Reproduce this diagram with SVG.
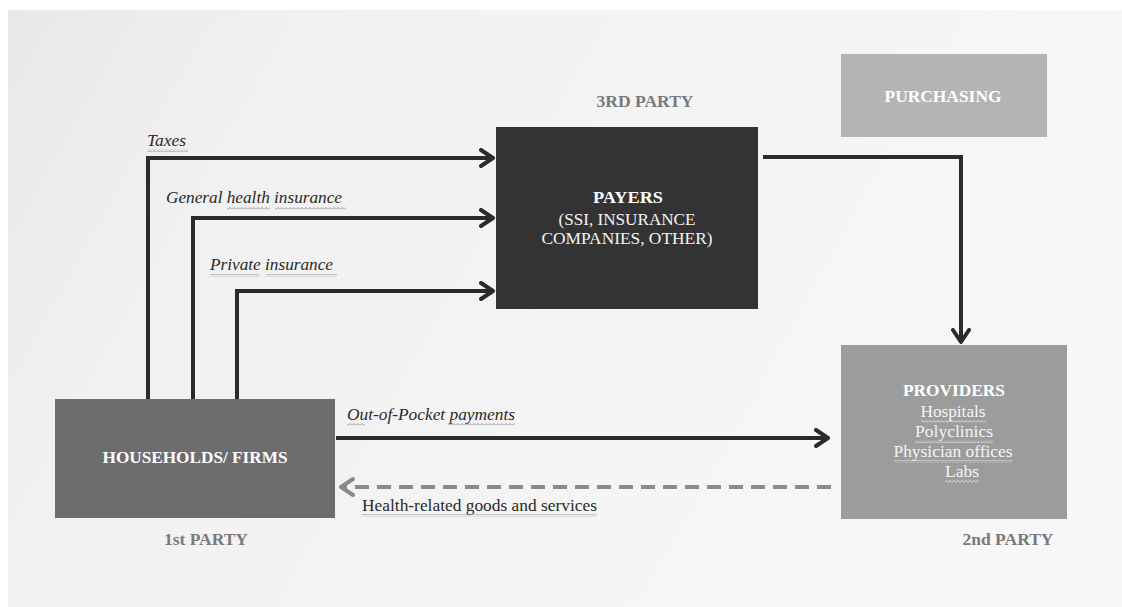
<svg xmlns="http://www.w3.org/2000/svg" width="1122" height="607" viewBox="0 0 1122 607">
  <defs>
    <linearGradient id="slideBg" x1="0" y1="0" x2="1" y2="0.3">
      <stop offset="0" stop-color="#e8e8e8"/>
      <stop offset="0.25" stop-color="#f1f1f1"/>
      <stop offset="1" stop-color="#f7f7f7"/>
    </linearGradient>
    <pattern id="squiggle" width="4" height="3" patternUnits="userSpaceOnUse">
      <path d="M0,2.5 L2,0.5 L4,2.5" fill="none" stroke="#8c8c8c" stroke-width="0.9"/>
    </pattern>
    <pattern id="squiggleLight" width="4" height="3" patternUnits="userSpaceOnUse">
      <path d="M0,2.5 L2,0.5 L4,2.5" fill="none" stroke="#ececec" stroke-width="0.9"/>
    </pattern>
    <marker id="arrowDark" viewBox="0 0 16 20" refX="14" refY="10" markerWidth="16" markerHeight="20" markerUnits="userSpaceOnUse" orient="auto">
      <path d="M2,2 L14,10 L2,18" fill="none" stroke="#2b2b2b" stroke-width="4" stroke-linecap="round" stroke-linejoin="round"/>
    </marker>
    <marker id="arrowGray" viewBox="0 0 16 20" refX="14" refY="10" markerWidth="16" markerHeight="20" markerUnits="userSpaceOnUse" orient="auto">
      <path d="M2,2 L14,10 L2,18" fill="none" stroke="#8a8a8a" stroke-width="4" stroke-linecap="round" stroke-linejoin="round"/>
    </marker>
  </defs>
  <style>
    .box-title { font-family: "Liberation Serif", serif; font-weight: bold; font-size: 16px; fill: #ffffff; text-anchor: middle; }
    .box-text { font-family: "Liberation Serif", serif; font-size: 16px; fill: #f4f4f4; text-anchor: middle; }
    .party { font-family: "Liberation Serif", serif; font-weight: bold; font-size: 16px; fill: #7a7a7a; text-anchor: middle; }
    .flow-label { font-family: "Liberation Serif", serif; font-style: italic; font-size: 16px; fill: #2a2a2a; }
    .flow-label-plain { font-family: "Liberation Serif", serif; font-size: 16px; fill: #2a2a2a; }
    .conn { fill: none; stroke: #2b2b2b; stroke-width: 4; marker-end: url(#arrowDark); }
    .conn-return { fill: none; stroke: #8a8a8a; stroke-width: 4; stroke-dasharray: 14 8; marker-end: url(#arrowGray); }
    .sq { fill: url(#squiggle); }
    .sq-light { fill: url(#squiggleLight); }
  </style>

  <!-- page and slide background -->
  <rect x="0" y="0" width="1122" height="607" fill="#ffffff"/>
  <rect x="8" y="10" width="1114" height="597" fill="url(#slideBg)"/>

  <!-- connectors -->
  <g id="connectors">
    <path id="taxes" class="conn" d="M148,399 V158 H493"/>
    <path id="general-insurance" class="conn" d="M193,399 V218 H493"/>
    <path id="private-insurance" class="conn" d="M237,399 V291 H493"/>
    <path id="payers-to-providers" class="conn" d="M763,157 H961 V342"/>
    <path id="out-of-pocket" class="conn" d="M336,438 H828"/>
    <path id="goods-services" class="conn-return" d="M831,487 H341"/>
  </g>

  <!-- connector labels -->
  <g id="connector-labels">
    <text class="flow-label" x="147" y="146" textLength="39" lengthAdjust="spacingAndGlyphs">Taxes</text>
    <rect class="sq" x="147" y="149" width="41" height="3"/>
    <text class="flow-label" x="166" y="203" textLength="176" lengthAdjust="spacingAndGlyphs">General health insurance</text>
    <rect class="sq" x="227" y="207" width="43" height="3"/>
    <rect class="sq" x="275" y="207" width="71" height="3"/>
    <text class="flow-label" x="210" y="270" textLength="123" lengthAdjust="spacingAndGlyphs">Private insurance</text>
    <rect class="sq" x="210" y="274" width="49" height="3"/>
    <rect class="sq" x="266" y="274" width="71" height="3"/>
    <text class="flow-label" x="347" y="420" textLength="168" lengthAdjust="spacingAndGlyphs">Out-of-Pocket payments</text>
    <rect class="sq" x="347" y="423" width="18" height="3"/>
    <rect class="sq" x="448" y="423" width="67" height="3"/>
    <text class="flow-label-plain" x="362" y="511" textLength="235" lengthAdjust="spacingAndGlyphs">Health-related goods and services</text>
    <rect class="sq" x="362" y="514" width="235" height="3"/>
  </g>

  <!-- payers -->
  <g id="payers">
    <text class="party" x="645" y="107" textLength="97" lengthAdjust="spacingAndGlyphs">3RD PARTY</text>
    <rect x="496" y="127" width="262" height="182" fill="#333333"/>
    <text class="box-title" x="628" y="203" textLength="70" lengthAdjust="spacingAndGlyphs">PAYERS</text>
    <text class="box-text" x="627" y="225" textLength="137" lengthAdjust="spacingAndGlyphs">(SSI, INSURANCE</text>
    <text class="box-text" x="627" y="244" textLength="171" lengthAdjust="spacingAndGlyphs">COMPANIES, OTHER)</text>
  </g>

  <!-- purchasing -->
  <g id="purchasing">
    <rect x="841" y="54" width="206" height="83" fill="#b4b4b4"/>
    <text class="box-title" x="943" y="102" textLength="117" lengthAdjust="spacingAndGlyphs">PURCHASING</text>
  </g>

  <!-- providers -->
  <g id="providers">
    <rect x="841" y="345" width="226" height="174" fill="#9c9c9c"/>
    <text class="box-title" x="954" y="396" textLength="102" lengthAdjust="spacingAndGlyphs">PROVIDERS</text>
    <text class="box-text" x="953" y="417" textLength="65" lengthAdjust="spacingAndGlyphs">Hospitals</text>
    <rect class="sq-light" x="921" y="420" width="65" height="3"/>
    <text class="box-text" x="954" y="437" textLength="78" lengthAdjust="spacingAndGlyphs">Polyclinics</text>
    <rect class="sq-light" x="915" y="440" width="78" height="3"/>
    <text class="box-text" x="953" y="457" textLength="119" lengthAdjust="spacingAndGlyphs">Physician offices</text>
    <rect class="sq-light" x="894" y="460" width="119" height="3"/>
    <text class="box-text" x="962" y="477" textLength="34" lengthAdjust="spacingAndGlyphs">Labs</text>
    <rect class="sq-light" x="945" y="480" width="34" height="3"/>
    <text class="party" x="1008" y="545" textLength="91" lengthAdjust="spacingAndGlyphs">2nd PARTY</text>
  </g>

  <!-- households / firms -->
  <g id="households">
    <rect x="55" y="399" width="280" height="119" fill="#6d6d6d"/>
    <text class="box-title" x="195" y="463" textLength="185" lengthAdjust="spacingAndGlyphs">HOUSEHOLDS/ FIRMS</text>
    <text class="party" x="206" y="545" textLength="84" lengthAdjust="spacingAndGlyphs">1st PARTY</text>
  </g>
</svg>
